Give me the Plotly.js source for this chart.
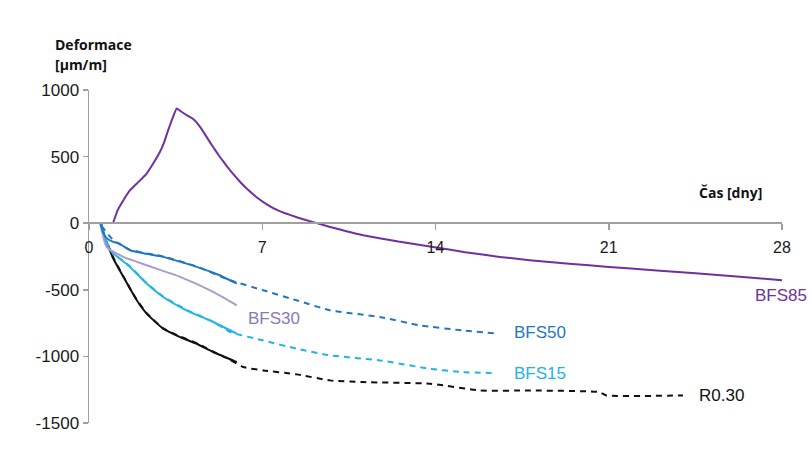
<!DOCTYPE html>
<html>
<head>
<meta charset="utf-8">
<script src="https://cdn.plot.ly/plotly-3.0.1.min.js"></script>
<style>html,body{margin:0;padding:0;background:#fff;}#chart{width:812px;height:468px;}</style>
</head>
<body>
<div id="chart"></div>
<script>
// ---- data (days, strain µm/m) ----
const bfs85Days = [0.97, 1.15, 1.39, 1.66, 2.0, 2.33, 2.6, 2.87, 3.05, 3.2, 3.38, 3.54, 3.75, 3.94, 4.21, 4.48, 4.75, 5.02, 5.29, 5.56, 5.83, 6.1, 6.37, 6.8, 7.18, 7.7, 8.39, 9.06, 9.74, 10.4, 11.08, 12.5, 13.9, 15.2, 16.6, 17.8, 19.4, 21.0, 22.8, 24.5, 26.3, 28.0];
const bfs85Vals = [0, 95, 173, 248, 310, 373, 450, 536, 615, 699, 790, 862, 835, 812, 782, 725, 648, 570, 497, 430, 368, 311, 260, 191, 142, 90, 45, 8, -28, -60, -90, -138, -178, -218, -253, -278, -305, -328, -353, -376, -402, -428];

const bfs50MeasDays = [0.45, 0.55, 0.7, 0.98, 1.2, 1.66, 2.2, 3.0, 3.6, 4.35, 5.2, 5.97];
const bfs50MeasVals = [0, -60, -110, -140, -150, -203, -225, -253, -285, -328, -385, -453];
const bfs50ModelDays = [0.5, 1.0, 1.66, 3.0, 4.35, 5.7, 7.04, 8.39, 9.74, 11.76, 13.37, 15.1, 16.47];
const bfs50ModelVals = [-20, -130, -200, -250, -325, -428, -504, -579, -654, -704, -767, -805, -829];

const bfs15MeasDays = [0.5, 0.6, 0.85, 1.2, 1.66, 2.33, 3.0, 3.94, 5.02, 5.97];
const bfs15MeasVals = [0, -80, -203, -260, -328, -453, -554, -654, -742, -829];
const bfs15ModelDays = [0.55, 0.85, 1.66, 2.33, 3.0, 3.94, 5.02, 5.7, 7.04, 8.39, 9.74, 11.76, 13.78, 15.1, 16.47];
const bfs15ModelVals = [-40, -200, -325, -450, -550, -650, -740, -817, -880, -942, -992, -1030, -1093, -1118, -1125];

const bfs30Days = [0.5, 0.71, 1.39, 2.33, 3.68, 5.02, 5.97];
const bfs30Vals = [-40, -178, -253, -316, -403, -516, -617];

const r030MeasDays = [0.5, 0.58, 0.98, 1.39, 1.93, 2.33, 3.0, 3.68, 4.35, 5.02, 5.97];
const r030MeasVals = [0, -78, -265, -403, -579, -679, -792, -855, -905, -967, -1043];
const r030ModelDays = [0.6, 1.0, 1.39, 1.93, 2.33, 3.0, 3.68, 4.35, 5.02, 5.7, 6.23, 7.04, 8.39, 9.74, 11.08, 13.78, 15.8, 17.8, 20.6, 20.9, 24.0];
const r030ModelVals = [-90, -265, -400, -575, -675, -790, -850, -900, -965, -1025, -1080, -1105, -1135, -1180, -1193, -1205, -1256, -1256, -1268, -1293, -1293];

const xTicks = [0, 7, 14, 21, 28];
const yTicks = [-1500, -1000, -500, 0, 500, 1000];

const seriesLabels = [
  {text: 'BFS85', x: 26.83, y: -541, color: '#7030A0'},
  {text: 'BFS50', x: 17.09, y: -818, color: '#1F78BE'},
  {text: 'BFS15', x: 17.09, y: -1126, color: '#22B4E6'},
  {text: 'BFS30', x: 6.34, y: -713, color: '#8C78B4'},
  {text: 'R0.30', x: 24.57, y: -1291, color: '#111111'}
];

// ---- styles ----
const C50 = '#1F78BE', C15 = '#22B4E6', C30 = '#AA9CCC', C85 = '#7030A0';
const line = (x, y, color, dash, smoothing) => ({x, y, type: 'scatter', mode: 'lines', hoverinfo: 'skip',
  line: {color, width: 2, dash: dash ? '6px,5px' : 'solid', shape: 'spline', smoothing: smoothing || 0.5}});

const traces = [
  line(r030ModelDays, r030ModelVals, '#111111', true),
  line(r030MeasDays, r030MeasVals, '#111111', false),
  line(bfs15ModelDays, bfs15ModelVals, C15, true),
  line(bfs15MeasDays, bfs15MeasVals, C15, false),
  line(bfs30Days, bfs30Vals, C30, false),
  line(bfs50ModelDays, bfs50ModelVals, C50, true),
  line(bfs50MeasDays, bfs50MeasVals, C50, false),
  line(bfs85Days, bfs85Vals, C85, false, 0.3)
];

const tickFont = {family: 'Liberation Sans, Arial, sans-serif', size: 17, color: '#1a1a1a'};
const annotations = seriesLabels.map(l => ({
  text: l.text, x: l.x, y: l.y, xref: 'x', yref: 'y', xanchor: 'left', yanchor: 'middle',
  showarrow: false, font: {family: 'Liberation Sans, Arial, sans-serif', size: 17, color: l.color}
}));
const titleFont = {family: 'Open Sans, sans-serif', size: 14, color: '#111', weight: 'bold'};
annotations.push({text: '<b>Deformace</b>', xref: 'paper', yref: 'paper', x: -0.052, y: 1.138,
  xanchor: 'left', yanchor: 'middle', showarrow: false, font: titleFont});
annotations.push({text: '<b>[μm/m]</b>', xref: 'paper', yref: 'paper', x: -0.052, y: 1.078,
  xanchor: 'left', yanchor: 'middle', showarrow: false, font: titleFont});
annotations.push({text: '<b>Čas [dny]</b>', xref: 'paper', yref: 'paper', x: 0.877, y: 0.691,
  xanchor: 'left', yanchor: 'middle', showarrow: false, font: titleFont});

const layout = {
  width: 812, height: 468,
  margin: {l: 89, r: 30, t: 90, b: 45},
  paper_bgcolor: '#fff', plot_bgcolor: '#fff',
  showlegend: false,
  xaxis: {range: [0, 28], tickvals: xTicks, ticktext: xTicks.map(String),
    anchor: 'free', position: 0.6, showgrid: false, zeroline: false,
    showline: true, linecolor: '#a0a0a0', linewidth: 2, ticks: 'outside', ticklen: 6,
    tickcolor: '#a0a0a0', tickwidth: 1.5, tickfont: {...tickFont, size: 16}, ticklabelstandoff: 4},
  yaxis: {range: [-1500, 1000], tickvals: yTicks, ticktext: yTicks.map(String),
    showgrid: false, zeroline: false, showline: true, linecolor: '#a0a0a0', linewidth: 1.5,
    ticks: 'outside', ticklen: 5, tickcolor: '#a0a0a0', tickwidth: 1.5, tickfont: tickFont},
  annotations
};

Plotly.newPlot('chart', traces, layout, {displayModeBar: false, staticPlot: true});
</script>
</body>
</html>
